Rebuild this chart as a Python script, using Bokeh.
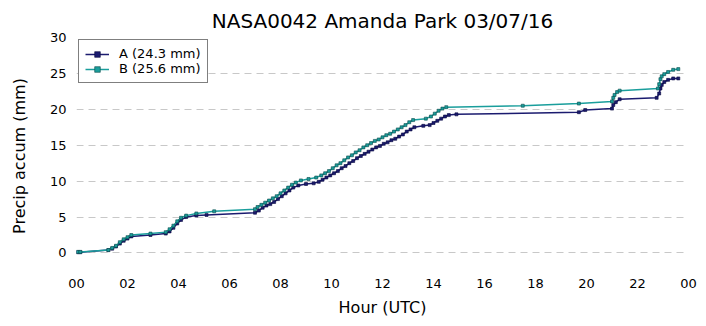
from bokeh.plotting import figure
from bokeh.models import FixedTicker, Legend, LegendItem, Range1d
from bokeh.embed import file_html
from bokeh.resources import INLINE

title_text = "NASA0042 Amanda Park 03/07/16"
x_ticks = [0, 2, 4, 6, 8, 10, 12, 14, 16, 18, 20, 22, 24]
x_tick_labels = ["00", "02", "04", "06", "08", "10", "12", "14", "16", "18", "20", "22", "00"]
y_ticks = [0, 5, 10, 15, 20, 25, 30]

a_label = "A (24.3 mm)"
a_hours = [0.05, 0.15, 1.25, 1.4, 1.55, 1.7, 1.85, 2.0, 2.15, 2.9, 3.5, 3.65, 3.8, 3.95,
           4.1, 4.3, 4.7, 5.1, 7.0, 7.15, 7.3, 7.45, 7.6, 7.75, 7.9, 8.05, 8.2, 8.35, 8.5,
           8.7, 9.0, 9.3, 9.5, 9.65, 9.8, 9.95, 10.1, 10.25, 10.4, 10.55, 10.7, 10.85, 11.0,
           11.15, 11.3, 11.45, 11.6, 11.75, 11.9, 12.05, 12.2, 12.35, 12.5, 12.65, 12.8,
           12.95, 13.1, 13.25, 13.6, 13.85, 14.0, 14.15, 14.3, 14.45, 14.6, 14.9, 19.7,
           19.95, 21.0, 21.05, 21.15, 21.3, 22.75, 22.85, 22.9, 22.95, 23.05, 23.2, 23.4, 23.6]
a_vals = [0.1, 0.1, 0.4, 0.6, 0.9, 1.3, 1.7, 2.0, 2.3, 2.5, 2.7, 3.0, 3.5, 4.1,
          4.6, 5.0, 5.2, 5.3, 5.6, 5.9, 6.3, 6.6, 6.8, 7.1, 7.5, 7.9, 8.3, 8.7, 9.1,
          9.4, 9.6, 9.7, 9.9, 10.2, 10.5, 10.8, 11.1, 11.4, 11.8, 12.1, 12.5, 12.8, 13.2,
          13.5, 13.8, 14.1, 14.4, 14.7, 14.9, 15.2, 15.4, 15.7, 15.9, 16.2, 16.5,
          16.9, 17.2, 17.5, 17.7, 17.8, 18.1, 18.4, 18.7, 19.0, 19.2, 19.3, 19.6,
          19.9, 20.1, 20.6, 21.0, 21.4, 21.6, 22.2, 22.9, 23.4, 23.8, 24.1, 24.3, 24.3]

b_label = "B (25.6 mm)"
b_hours = [0.05, 0.15, 1.25, 1.4, 1.55, 1.7, 1.85, 2.0, 2.15, 2.9, 3.5, 3.65, 3.8, 3.95,
           4.1, 4.3, 4.7, 5.4, 7.0, 7.1, 7.25, 7.4, 7.55, 7.7, 7.85, 8.0, 8.15, 8.3, 8.45,
           8.6, 8.8, 9.1, 9.4, 9.6, 9.75, 9.9, 10.05, 10.2, 10.35, 10.5, 10.65, 10.8, 10.95,
           11.1, 11.25, 11.4, 11.55, 11.7, 11.85, 12.0, 12.15, 12.3, 12.45, 12.6, 12.75,
           12.9, 13.05, 13.2, 13.7, 13.9, 14.05, 14.2, 14.35, 14.5, 17.5, 19.7, 21.0,
           21.05, 21.1, 21.2, 21.3, 22.8, 22.85, 22.9, 22.95, 23.05, 23.2, 23.4, 23.6]
b_vals = [0.15, 0.15, 0.4, 0.7, 1.0, 1.5, 1.9, 2.2, 2.5, 2.7, 2.9, 3.3, 3.8, 4.4,
          4.9, 5.2, 5.5, 5.8, 6.1, 6.4, 6.7, 7.0, 7.3, 7.6, 7.9, 8.3, 8.7, 9.1, 9.5,
          9.8, 10.1, 10.3, 10.5, 10.8, 11.1, 11.4, 11.8, 12.2, 12.5, 12.9, 13.3, 13.6, 14.0,
          14.3, 14.7, 15.0, 15.3, 15.6, 15.8, 16.1, 16.4, 16.6, 16.9, 17.2, 17.5,
          17.8, 18.2, 18.5, 18.7, 19.0, 19.4, 19.8, 20.1, 20.3, 20.5, 20.8, 21.1,
          21.6, 22.0, 22.4, 22.6, 22.9, 23.5, 24.2, 24.6, 24.9, 25.2, 25.5, 25.6]

A_COLOR = "#1b1b6f"
B_COLOR = "#1a9e9c"
FONT = "DejaVu Sans"

p = figure(frame_width=612, frame_height=237, output_backend="svg", toolbar_location=None,
           x_range=Range1d(0, 24), y_range=Range1d(-3, 30),
           min_border_left=76, min_border_right=18, min_border_top=37, min_border_bottom=52,
           title=title_text)

p.title.align = "center"
p.title.text_font = FONT
p.title.text_font_size = "20px"
p.title.text_font_style = "normal"
p.title.text_color = "black"
p.title.standoff = 9

la = p.line(a_hours, a_vals, color=A_COLOR, line_width=1.5)
sa = p.scatter(a_hours, a_vals, marker="square", size=3, fill_color=A_COLOR, line_color="#0a0a40", line_width=0.6)
lb = p.line(b_hours, b_vals, color=B_COLOR, line_width=1.5)
sb = p.scatter(b_hours, b_vals, marker="square", size=3, fill_color=B_COLOR, line_color="#0b4a4a", line_width=0.6)

p.xaxis.ticker = FixedTicker(ticks=x_ticks)
p.xaxis.major_label_overrides = {t: l for t, l in zip(x_ticks, x_tick_labels)}
p.yaxis.ticker = FixedTicker(ticks=y_ticks)

for ax in (p.xaxis[0], p.yaxis[0]):
    ax.axis_line_color = None
    ax.major_tick_line_color = None
    ax.minor_tick_line_color = None
    ax.major_tick_out = 0
    ax.major_tick_in = 0
    ax.minor_tick_out = 0
    ax.minor_tick_in = 0
    ax.major_label_text_font = FONT
    ax.major_label_text_font_size = "13px"
    ax.major_label_text_color = "black"
    ax.axis_label_text_font = FONT
    ax.axis_label_text_font_size = "16px"
    ax.axis_label_text_font_style = "normal"
    ax.axis_label_text_color = "black"

p.xaxis.axis_label = "Hour (UTC)"
p.yaxis.axis_label = "Precip accum (mm)"
p.xaxis.major_label_standoff = 4
p.yaxis.major_label_standoff = 10
p.xaxis.axis_label_standoff = 7
p.yaxis.axis_label_standoff = 18

p.xgrid.grid_line_color = None
p.ygrid.grid_line_color = "#c8c8c8"
p.ygrid.grid_line_dash = "7 5"
p.ygrid.grid_line_width = 1
p.outline_line_color = None
p.background_fill_color = "white"
p.border_fill_color = "white"

legend = Legend(items=[LegendItem(label=a_label, renderers=[la, sa]),
                       LegendItem(label=b_label, renderers=[lb, sb])],
                location="top_left")
legend.margin = 2
legend.padding = 6
legend.spacing = 0
legend.glyph_width = 24
legend.glyph_height = 14
legend.label_standoff = 10
legend.label_text_font = FONT
legend.label_text_font_size = "13px"
legend.label_text_color = "black"
legend.label_height = 14
legend.border_line_color = "black"
legend.border_line_width = 1
legend.background_fill_alpha = 1.0
p.add_layout(legend)

open("out.html", "w").write(file_html(p, INLINE))
